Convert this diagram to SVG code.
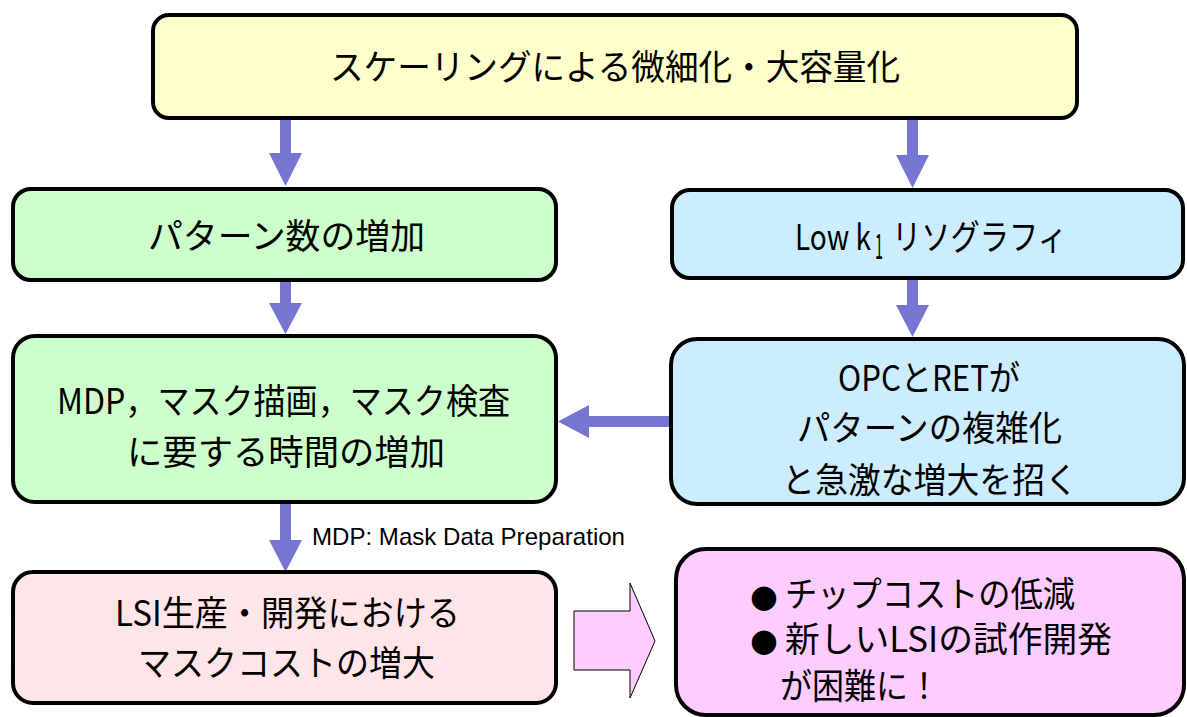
<svg xmlns="http://www.w3.org/2000/svg" width="1187" height="717" viewBox="0 0 1187 717">
<style>
.box{stroke:#000;stroke-width:4}
.t{font-family:"Noto Sans CJK JP",sans-serif;font-size:35px;fill:#000}
.b{font-family:"DejaVu Sans",sans-serif;font-size:32px;fill:#000}
.s{font-family:"Liberation Sans",sans-serif;font-size:24px;fill:#000}
.arr{fill:#7676D2}
</style>
<rect width="1187" height="717" fill="#fff"/>
<g id="connectors">
<path class="arr" d="M280,120 H291 V153 H302 L285.5,186 L269,153 H280 Z"/>
<path class="arr" d="M907,120 H918 V155 H929 L912.5,188 L896,155 H907 Z"/>
<path class="arr" d="M280,281 H291 V303 H302 L285.5,334 L269,303 H280 Z"/>
<path class="arr" d="M907,279 H918 V305 H929 L912.5,337 L896,305 H907 Z"/>
<path class="arr" d="M669,416 V427 H589 V438 L558,421.5 L589,405 V416 Z"/>
<path class="arr" d="M280,502 H291 V540 H302 L285.5,572 L269,540 H280 Z"/>
<text class="s" x="312" y="545" textLength="313" lengthAdjust="spacingAndGlyphs">MDP: Mask Data Preparation</text>
<path d="M574,611 H630 V583 L655,641 L630,698 V670 H574 Z" fill="#FFCCFF" stroke="#000" stroke-width="1"/>
</g>
<g id="top">
<rect class="box" x="153" y="15" width="924" height="103" rx="16" fill="#FFFFCC"/>
<text class="t" x="330" y="80" font-size="36" textLength="570" lengthAdjust="spacingAndGlyphs">スケーリングによる微細化・大容量化</text>
</g>
<g id="patterns">
<rect class="box" x="13" y="189" width="543" height="91" rx="18" fill="#CCFFCC"/>
<text class="t" x="148" y="249" textLength="277" lengthAdjust="spacingAndGlyphs">パターン数の増加</text>
</g>
<g id="lowk1">
<rect class="box" x="672" y="190" width="511" height="88" rx="18" fill="#CCECFF"/>
<text class="t" x="795" y="250" textLength="76" lengthAdjust="spacingAndGlyphs">Low k</text>
<text class="t" x="875" y="259" font-size="18" textLength="8" lengthAdjust="spacingAndGlyphs">1</text>
<text class="t" x="892" y="250" textLength="175" lengthAdjust="spacingAndGlyphs">リソグラフィ</text>
</g>
<g id="time">
<rect class="box" x="13" y="336" width="543" height="166" rx="22" fill="#CCFFCC"/>
<text class="t" x="57" y="414" textLength="453" lengthAdjust="spacingAndGlyphs">MDP，マスク描画，マスク検査</text>
<text class="t" x="127" y="465" textLength="318" lengthAdjust="spacingAndGlyphs">に要する時間の増加</text>
</g>
<g id="opc">
<rect class="box" x="671" y="339" width="513" height="165" rx="26" fill="#CCECFF"/>
<text class="t" x="838" y="391" textLength="182" lengthAdjust="spacingAndGlyphs">OPCとRETが</text>
<text class="t" x="797" y="441" textLength="265" lengthAdjust="spacingAndGlyphs">パターンの複雑化</text>
<text class="t" x="782" y="493" textLength="296" lengthAdjust="spacingAndGlyphs">と急激な増大を招く</text>
</g>
<g id="cost">
<rect class="box" x="13" y="572" width="543" height="131" rx="20" fill="#FFE5E8"/>
<text class="t" x="115" y="626" textLength="345" lengthAdjust="spacingAndGlyphs">LSI生産・開発における</text>
<text class="t" x="138" y="676" textLength="297" lengthAdjust="spacingAndGlyphs">マスクコストの増大</text>
</g>
<g id="result">
<rect class="box" x="676" y="549" width="508" height="166" rx="30" fill="#FFCCFF"/>
<text class="b" x="750" y="607">●</text>
<text class="t" x="785" y="607" textLength="290" lengthAdjust="spacingAndGlyphs">チップコストの低減</text>
<text class="b" x="750" y="651">●</text>
<text class="t" x="785" y="652" textLength="327" lengthAdjust="spacingAndGlyphs">新しいLSIの試作開発</text>
<text class="t" x="780" y="699" textLength="160" lengthAdjust="spacingAndGlyphs">が困難に！</text>
</g>
</svg>
